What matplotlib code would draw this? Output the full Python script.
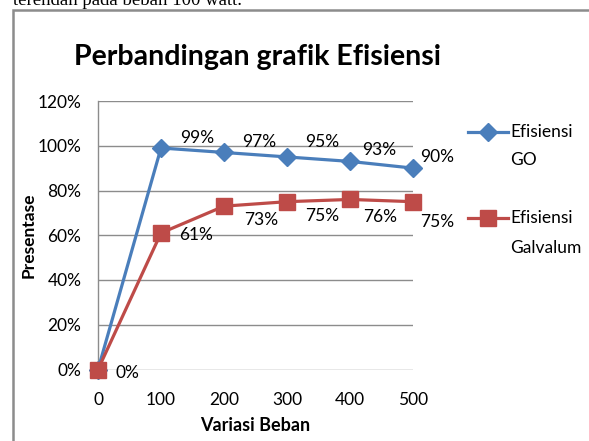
import matplotlib
matplotlib.use("Agg")
import matplotlib.pyplot as plt
from matplotlib.patches import Rectangle
from matplotlib.lines import Line2D

# data
beban = [0, 100, 200, 300, 400, 500]
efisiensi_go = [0, 99, 97, 95, 93, 90]
efisiensi_galvalum = [0, 61, 73, 75, 76, 75]
yticks = [0, 20, 40, 60, 80, 100, 120]

# geseran label data (pixel) - tidak semua label punya posisi sama di aslinya
geser_go = [None, (19, -10), (18, -10), (18, -15), (12, -11), (7, -11)]
geser_galvalum = [(17, 4), (18, 2), (20, 14), (18, 14), (13, 18), (7, 20)]

biru = "#4A7EBB"
merah = "#BE4B48"
abu = "#8C8C8C"

plt.rcParams["font.family"] = ["Lato", "DejaVu Sans"]

W, H = 589, 441
fig = plt.figure(figsize=(W / 100, H / 100), dpi=100)
px = 0.72  # pixel -> point

# sisa teks dokumen di atas grafik
fig.text(13 / W, 1 - 5 / H, "terendah pada beban 100 watt.", family="Liberation Serif",
         fontsize=13.5, va="baseline", ha="left", color="black")

# bingkai grafik
fig.patches.append(Rectangle((13 / W, -0.1), 1.2, (H - 10) / H + 0.1, transform=fig.transFigure,
                             fill=False, edgecolor=abu, linewidth=1.8))

ax = fig.add_axes([98 / W, 1 - 369.5 / H, (413 - 98) / W, (369.5 - 101) / H])
ax.set_xlim(0, 500)
ax.set_ylim(0, 120)
for s in ["top", "right", "bottom"]:
    ax.spines[s].set_visible(False)
ax.spines["left"].set_color(abu)
ax.spines["left"].set_linewidth(1)
ax.set_yticks(yticks)
ax.set_yticklabels([f"{v}%" for v in yticks])
ax.set_xticks(beban)
ax.tick_params(length=0, labelsize=12.5)
ax.tick_params(axis="y", pad=12)
ax.tick_params(axis="x", pad=16)
ax.grid(axis="y", color=abu, linewidth=1)
ax.set_axisbelow(True)

ax.plot(beban, efisiensi_go, color=biru, linewidth=2.3, marker="D", markersize=9, clip_on=False, zorder=3)
ax.plot(beban, efisiensi_galvalum, color=merah, linewidth=2.3, marker="s", markersize=11, clip_on=False, zorder=4)

for x, y, g in zip(beban, efisiensi_go, geser_go):
    if g is None:
        continue
    ax.annotate(f"{y}%", (x, y), xytext=(g[0] * px, -g[1] * px), textcoords="offset points",
                fontsize=12.5, ha="left", va="center")
for x, y, g in zip(beban, efisiensi_galvalum, geser_galvalum):
    ax.annotate(f"{y}%", (x, y), xytext=(g[0] * px, -g[1] * px), textcoords="offset points",
                fontsize=12.5, ha="left", va="center")

ax.set_ylabel("Presentase", fontsize=12.5, fontweight="bold")
ax.yaxis.set_label_coords(-0.195, 0.5)
ax.set_xlabel("Variasi Beban", fontsize=13, fontweight="bold", labelpad=7)

fig.text(258 / W, 1 - 57 / H, "Perbandingan grafik Efisiensi", fontsize=20.5, fontweight="bold",
         ha="center", va="center")

# legenda manual
for warna, mk, ms, y0, baris, jarak in [(biru, "D", 9, 132, ["Efisiensi", "GO"], 28),
                                        (merah, "s", 11, 218, ["Efisiensi", "Galvalum"], 30)]:
    fig.add_artist(Line2D([468 / W, 488 / W, 508 / W], [1 - y0 / H] * 3, transform=fig.transFigure,
                          color=warna, linewidth=2.3, marker=mk, markersize=ms, markevery=[1]))
    for i, t in enumerate(baris):
        fig.text(510 / W, 1 - (y0 + i * jarak) / H, t, fontsize=12.5, ha="left", va="center")

fig.savefig("out.png", dpi=100)
